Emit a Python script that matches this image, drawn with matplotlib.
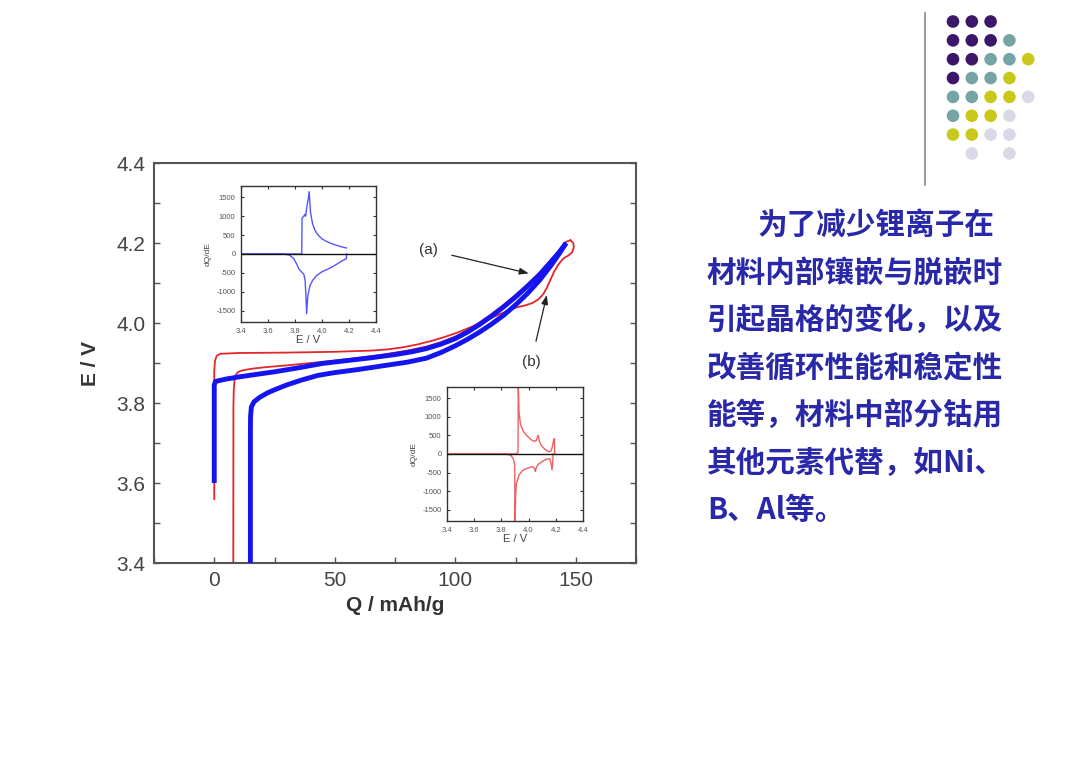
import matplotlib
matplotlib.use("Agg")
import matplotlib.pyplot as plt
from matplotlib.ticker import MultipleLocator
from matplotlib.patches import Circle

plt.rcParams['font.family'] = ['Liberation Sans', 'DejaVu Sans']
plt.rcParams['axes.unicode_minus'] = False

# ---------------- data ----------------
# main chart: E (V) vs Q (mAh/g)
blue_charge_q = [0, 0, 0.5, 5, 10, 18, 25, 35, 45, 55, 65, 75, 82, 88, 94, 100, 105, 110, 115,
                 120, 125, 130, 135, 140, 143, 146]
blue_charge_e = [3.60, 3.845, 3.854, 3.860, 3.865, 3.872, 3.878, 3.888, 3.899, 3.906, 3.913, 3.921,
                 3.928, 3.936, 3.947, 3.961, 3.977, 3.996, 4.017, 4.040, 4.065, 4.092, 4.121,
                 4.155, 4.176, 4.200]
blue_dis_q = [146, 143, 140, 135, 130, 125, 120, 115, 110, 105, 100, 94, 88, 80, 70, 60, 50, 43,
              36, 30, 25, 22, 18.8, 16.5, 15.4, 15.05, 15, 15]
blue_dis_e = [4.200, 4.172, 4.146, 4.107, 4.074, 4.045, 4.019, 3.997, 3.977, 3.959, 3.943, 3.926,
              3.912, 3.902, 3.893, 3.884, 3.876, 3.869, 3.857, 3.845, 3.833, 3.825, 3.814, 3.803,
              3.790, 3.765, 3.720, 3.40]

red_charge_q = [0, 0, 0.3, 1, 2.5, 10, 30, 50, 65, 72, 78, 84, 90, 95, 100, 105, 110, 115, 120,
                123, 126, 129, 132, 134.5, 136.5, 138, 139.5, 141, 143, 145, 147, 148.5, 149.2,
                149, 147.8]
red_charge_e = [3.56, 3.88, 3.905, 3.918, 3.923, 3.925, 3.926, 3.928, 3.931, 3.934, 3.939, 3.946,
                3.955, 3.964, 3.974, 3.986, 3.999, 4.013, 4.026, 4.034, 4.040, 4.044, 4.050,
                4.059, 4.072, 4.088, 4.108, 4.128, 4.148, 4.162, 4.169, 4.177, 4.189, 4.200, 4.207]
red_dis_q = [147.8, 146, 143, 140, 135, 130, 125, 120, 115, 110, 105, 100, 94, 88, 80, 70, 60,
             50, 40, 30, 22, 16, 12, 10, 9, 8.4, 8.1, 7.95, 7.9]
red_dis_e = [4.207, 4.203, 4.180, 4.160, 4.126, 4.097, 4.070, 4.045, 4.022, 4.001, 3.982, 3.966,
             3.952, 3.941, 3.931, 3.921, 3.913, 3.906, 3.900, 3.894, 3.890, 3.886, 3.882, 3.878,
             3.871, 3.857, 3.832, 3.790, 3.40]

# inset 1 (blue): dQ/dE vs E
b_pos_e = [3.40, 3.850, 3.852, 3.865, 3.872, 3.878, 3.890, 3.898, 3.905, 3.915, 3.93, 3.945,
           3.96, 3.98, 4.00, 4.03, 4.06, 4.09, 4.12, 4.15, 4.18]
b_pos_v = [0, 0, 950, 1000, 1050, 1000, 1300, 1450, 1650, 1100, 800, 650, 550, 470, 400, 340,
           290, 250, 215, 185, 160]
b_neg_e = [3.40, 3.72, 3.76, 3.79, 3.81, 3.83, 3.85, 3.865, 3.875, 3.882, 3.886, 3.895, 3.91,
           3.93, 3.96, 4.00, 4.03, 4.06, 4.10, 4.14, 4.17, 4.18, 4.182]
b_neg_v = [0, 0, -30, -120, -250, -400, -480, -530, -700, -1200, -1580, -1100, -850, -700, -570,
           -470, -420, -370, -290, -200, -140, -130, 0]

# inset 2 (red): dQ/dE vs E
r_pos_e = [3.40, 3.905, 3.922, 3.924, 3.93, 3.94, 3.96, 3.98, 4.00, 4.02, 4.04, 4.055, 4.065,
           4.07, 4.075, 4.09, 4.11, 4.13, 4.15, 4.165, 4.175, 4.185, 4.19, 4.192]
r_pos_v = [0, 0, 40, 1900, 1100, 800, 620, 520, 450, 380, 340, 360, 450, 500, 400, 250, 160,
           100, 60, 80, 200, 380, 415, 0]
r_neg_e = [3.40, 3.84, 3.87, 3.89, 3.898, 3.90, 3.905, 3.91, 3.93, 3.96, 4.00, 4.03, 4.045,
           4.05, 4.055, 4.07, 4.10, 4.13, 4.155, 4.165, 4.172, 4.178, 4.18]
r_neg_v = [0, 0, -40, -150, -300, -1900, -1100, -800, -560, -430, -370, -340, -400, -470, -380,
           -280, -200, -140, -130, -250, -420, -200, 0]

main_xticks = [0, 50, 100, 150]
main_yticks = [3.4, 3.6, 3.8, 4.0, 4.2, 4.4]
inset_xticks = [3.4, 3.6, 3.8, 4.0, 4.2, 4.4]
inset_yticks = [-1500, -1000, -500, 0, 500, 1000, 1500]

text_lines = [
    "为了减少锂离子在",
    "材料内部镶嵌与脱嵌时",
    "引起晶格的变化，以及",
    "改善循环性能和稳定性",
    "能等，材料中部分钴用",
    "其他元素代替，如Ni、",
    "B、Al等。",
]

dot_rows = [
    "PPP",
    "PPPT",
    "PPTTY",
    "PTTY",
    "TTYYL",
    "TYYL",
    "YYLL",
    " L L",
]
dot_colors = {"P": "#3c1668", "T": "#76a3a3", "Y": "#c9c91c", "L": "#d9d9e8"}

# ---------------- figure ----------------
W, H = 1080, 764
fig = plt.figure(figsize=(W / 100, H / 100), dpi=100)
fig.patch.set_facecolor("white")

def px_rect(x0, y0, x1, y1):
    return [x0 / W, 1 - y1 / H, (x1 - x0) / W, (y1 - y0) / H]

frame_col = "#555555"
tick_col = "#444444"

ax = fig.add_axes(px_rect(154, 163, 636, 563))
ax.plot(red_charge_q, red_charge_e, color="#e3262b", lw=1.3, zorder=2)
ax.plot(red_dis_q, red_dis_e, color="#e3262b", lw=1.3, zorder=2)
ax.plot(blue_charge_q, blue_charge_e, color="#1414f0", lw=3.5, zorder=3,
        solid_joinstyle="round", solid_capstyle="butt")
ax.plot(blue_dis_q, blue_dis_e, color="#1414f0", lw=3.5, zorder=3,
        solid_joinstyle="round", solid_capstyle="butt")
ax.set_xlim(-25, 175)
ax.set_ylim(3.4, 4.4)
ax.set_xticks(main_xticks)
ax.set_yticks(main_yticks)
ax.set_yticklabels([f"{v:.1f}" for v in main_yticks])
ax.xaxis.set_minor_locator(MultipleLocator(25))
ax.yaxis.set_minor_locator(MultipleLocator(0.1))
ax.tick_params(which="both", direction="in", length=4, width=1, color=frame_col,
               right=True, top=False, labelsize=15, labelcolor=tick_col, pad=6)
for s in ax.spines.values():
    s.set_color(frame_col)
    s.set_linewidth(1.5)
ax.set_xlabel("Q / mAh/g", fontsize=15, fontweight="bold", color="#333333", labelpad=4)
ax.set_ylabel("E / V", fontsize=15, fontweight="bold", color="#333333", labelpad=12)

arrow_kw = dict(arrowstyle="-|>,head_length=0.5,head_width=0.18", color="#222222", lw=0.9)
ax.annotate("(a)", xy=(130.5, 4.124), xytext=(89, 4.183), ha="center", va="center",
            fontsize=11, color="#333333", arrowprops=dict(shrinkA=8, shrinkB=0, **arrow_kw))
ax.annotate("(b)", xy=(138, 4.07), xytext=(131.5, 3.903), ha="center", va="center",
            fontsize=11, color="#333333", arrowprops=dict(shrinkA=8, shrinkB=0, **arrow_kw))

def style_inset(a):
    a.set_xlim(3.4, 4.4)
    a.set_ylim(-1800, 1800)
    a.set_xticks(inset_xticks)
    a.set_xticklabels([f"{v:.1f}" for v in inset_xticks])
    a.set_yticks(inset_yticks)
    a.tick_params(direction="in", length=2.5, width=0.8, color="#333333", top=True, right=True,
                  labelsize=5.5, labelcolor="#555555", pad=4)
    for s in a.spines.values():
        s.set_color("#333333")
        s.set_linewidth(1.0)
    a.axhline(0, color="#111111", lw=1.0, zorder=3)
    a.set_xlabel("E / V", fontsize=8, color="#444444", labelpad=0)
    a.set_ylabel("dQ/dE", fontsize=6, color="#444444", labelpad=3)
    a.set_facecolor("white")

ins1 = fig.add_axes(px_rect(241, 186, 376, 322))
ins1.plot(b_pos_e, b_pos_v, color="#5555ff", lw=1.0, zorder=2)
ins1.plot(b_neg_e, b_neg_v, color="#5555ff", lw=1.0, zorder=2)
style_inset(ins1)

ins2 = fig.add_axes(px_rect(447, 387, 583, 521))
ins2.plot(r_pos_e, r_pos_v, color="#f06060", lw=1.0, zorder=2)
ins2.plot(r_neg_e, r_neg_v, color="#f06060", lw=1.0, zorder=2)
style_inset(ins2)

# ---------------- right-hand text ----------------
txt_col = "#2828a8"
cjk = ['Noto Sans CJK SC', 'DejaVu Sans']
line_y0, line_dy = 225, 47.5
for i, line in enumerate(text_lines):
    x0 = 758 if i == 0 else 707
    fig.text(x0 / W, 1 - (line_y0 + i * line_dy) / H, line, family=cjk, fontsize=21.3,
             fontweight="bold", color=txt_col, ha="left", va="center")

# ---------------- decoration ----------------
deco = fig.add_axes([0, 0, 1, 1], zorder=-1)
deco.set_xlim(0, W)
deco.set_ylim(H, 0)
deco.axis("off")
deco.plot([925, 925], [13, 185], color="#888888", lw=1.2)
col_x0, col_dx = 953, 18.8
row_y0, row_dy = 21.5, 18.85
for r, row in enumerate(dot_rows):
    for c, ch in enumerate(row):
        if ch == " ":
            continue
        deco.add_patch(Circle((col_x0 + c * col_dx, row_y0 + r * row_dy), 6.3,
                              color=dot_colors[ch], lw=0))

fig.savefig("out.png", dpi=100, facecolor="white")
